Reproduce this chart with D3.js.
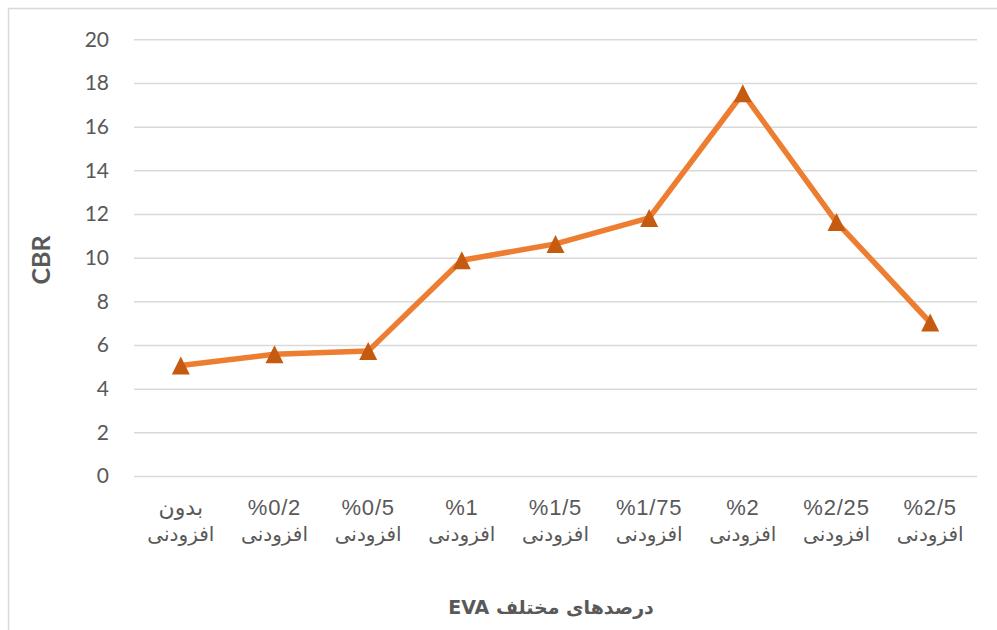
<!DOCTYPE html>
<html>
<head>
<meta charset="utf-8">
<script src="https://cdn.jsdelivr.net/npm/d3@7"></script>
<style>
  body { margin: 0; background: #fff; }
  svg { display: block; }
</style>
</head>
<body>
<svg width="997" height="630"></svg>
<script>
// chart data
const categories = ['بدون', '%0/2', '%0/5', '%1', '%1/5', '%1/75', '%2', '%2/25', '%2/5'];
const subLabel = 'افزودنی';
const cbrValues = [5.06, 5.58, 5.72, 9.88, 10.63, 11.82, 17.53, 11.63, 7.03];
const yTicks = [0, 2, 4, 6, 8, 10, 12, 14, 16, 18, 20];

const svg = d3.select('svg');
const width = +svg.attr('width');
const height = +svg.attr('height');

const textColor = '#595959';
const gridColor = '#d9d9d9';

// outer frame (only left/top visible in the picture)
svg.append('rect')
    .attr('x', 8.5)
    .attr('y', 8.5)
    .attr('width', width + 20)
    .attr('height', height + 20)
    .attr('fill', 'none')
    .attr('stroke', gridColor)
    .attr('stroke-width', 1.5);

const x = d3.scaleBand()
    .domain(categories)
    .range([134, 977]);

const y = d3.scaleLinear()
    .domain([0, 20])
    .range([476, 39.3]);

// gridlines + y labels
const yAxis = d3.axisLeft(y)
    .tickValues(yTicks)
    .tickSize(-(977 - 134))
    .tickPadding(25);

const gy = svg.append('g')
    .attr('transform', 'translate(134,0)')
    .call(yAxis);
gy.select('.domain').remove();
gy.selectAll('.tick line')
    .attr('stroke', gridColor)
    .attr('stroke-width', 1.5);
gy.selectAll('.tick text')
    .attr('fill', textColor)
    .style('font-family', 'Lato, "Open Sans", sans-serif')
    .style('font-size', '21px');

// x labels (two lines)
const gx = svg.append('g');
categories.forEach((c, i) => {
    const cx = x(c) + x.bandwidth() / 2;
    gx.append('text')
        .attr('x', cx)
        .attr('y', 515)
        .attr('text-anchor', 'middle')
        .attr('fill', textColor)
        .style('font-family', '"Liberation Sans", "DejaVu Sans", sans-serif')
        .style('font-size', '22px')
        .style('letter-spacing', '0.8px')
        .text(c);
    gx.append('text')
        .attr('x', cx)
        .attr('y', 541)
        .attr('text-anchor', 'middle')
        .attr('fill', textColor)
        .style('font-family', '"Liberation Sans", "DejaVu Sans", sans-serif')
        .style('font-size', '20px')
        .text(subLabel);
});

// axis titles
svg.append('text')
    .attr('transform', 'translate(50,260) rotate(-90)')
    .attr('text-anchor', 'middle')
    .attr('fill', textColor)
    .style('font-family', 'Lato, sans-serif')
    .style('font-weight', 'bold')
    .style('font-size', '25px')
    .text('CBR');

svg.append('text')
    .attr('x', 551)
    .attr('y', 614)
    .attr('text-anchor', 'middle')
    .attr('direction', 'rtl')
    .attr('fill', textColor)
    .style('font-family', '"DejaVu Sans", sans-serif')
    .style('font-weight', 'bold')
    .style('font-size', '19px')
    .text('درصدهای مختلف EVA');

// line
const pts = categories.map((c, i) => [x(c) + x.bandwidth() / 2, y(cbrValues[i])]);
svg.append('path')
    .attr('d', d3.line()(pts))
    .attr('fill', 'none')
    .attr('stroke', '#ED7D31')
    .attr('stroke-width', 5.5)
    .attr('stroke-linejoin', 'round');

// triangle markers (isosceles, 18 wide x 18 tall, centred on the point)
const triangle = {
    draw(context, size) {
        const h = Math.sqrt(size) / 2;
        context.moveTo(0, -h);
        context.lineTo(h, h);
        context.lineTo(-h, h);
        context.closePath();
    }
};
const tri = d3.symbol().type(triangle).size(18 * 18);
svg.selectAll('.marker')
    .data(pts)
    .enter()
    .append('path')
    .attr('class', 'marker')
    .attr('transform', d => `translate(${d[0]},${d[1]})`)
    .attr('d', tri)
    .attr('fill', '#C55A11');
</script>
</body>
</html>
